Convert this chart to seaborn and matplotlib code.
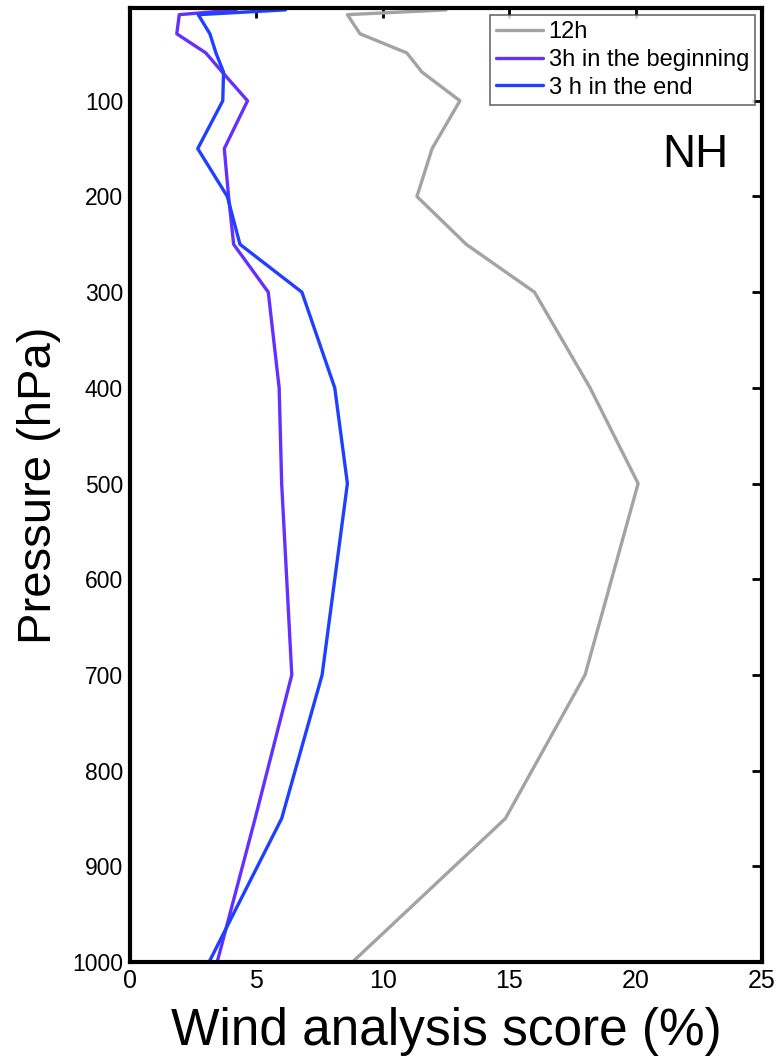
import numpy as np
import pandas as pd
import matplotlib
matplotlib.use("Agg")
import matplotlib.pyplot as plt
import seaborn as sns

# pressure levels (hPa) and wind analysis score (%)
pressure = [5, 10, 30, 50, 70, 100, 150, 200, 250, 300, 400, 500, 700, 850, 1000]
score_12h = [12.5, 8.6, 9.1, 10.95, 11.55, 13.05, 11.95, 11.35, 13.3, 16.0, 18.2, 20.1, 18.0, 14.85, 8.8]
score_3h_begin = [4.2, 1.95, 1.85, 3.0, 3.65, 4.65, 3.73, 3.9, 4.1, 5.47, 5.9, 6.0, 6.4, 4.95, 3.45]
score_3h_end = [6.15, 2.7, 3.16, 3.4, 3.7, 3.67, 2.68, 3.85, 4.35, 6.8, 8.1, 8.6, 7.6, 6.0, 3.13]

labels = ["12h", "3h in the beginning", "3 h in the end"]
colors = ["#a3a3a3", "#6430ff", "#1f40ff"]
xticks = [0, 5, 10, 15, 20, 25]
yticks = [100, 200, 300, 400, 500, 600, 700, 800, 900, 1000]

sns.set_style("white")
plt.rcParams["font.family"] = ["Liberation Sans", "DejaVu Sans"]
plt.rcParams["text.color"] = "black"
plt.rcParams["axes.labelcolor"] = "black"

fig = plt.figure(figsize=(7.77, 10.61), dpi=100)
ax = fig.add_axes([0.1673, 0.0933, 0.8134, 0.8992])

for vals, lab, col in zip([score_12h, score_3h_begin, score_3h_end], labels, colors):
    sns.lineplot(x=vals, y=pressure, sort=False, estimator=None, ax=ax,
                 color=col, linewidth=2.4, label=lab)

ax.set_xlim(0, 25)
ax.set_ylim(1000, 3)
ax.set_xticks(xticks)
ax.set_yticks(yticks)
ax.tick_params(axis="both", direction="in", length=7, width=2, top=True, right=True,
               colors="black", labelcolor="black")
ax.tick_params(axis="x", labelsize=18, pad=5)
ax.tick_params(axis="y", labelsize=16.5, pad=5)
for s in ax.spines.values():
    s.set_linewidth(3)
    s.set_color("black")

ax.set_xlabel("Wind analysis score (%)", fontsize=37, labelpad=10)
ax.set_ylabel("Pressure (hPa)", fontsize=34, labelpad=8)

ax.text(0.894, 0.846, "NH", transform=ax.transAxes, fontsize=33, ha="center", va="center")

leg = ax.legend(loc="upper right", fontsize=17, frameon=True, fancybox=False,
                labelspacing=0.25, handlelength=2.0, handletextpad=0.25,
                borderpad=0.25, borderaxespad=0.3)
leg.get_frame().set_edgecolor("#444444")
leg.get_frame().set_linewidth(1.2)
for t in leg.get_texts():
    t.set_color("black")

fig.savefig("out.png", dpi=100)
